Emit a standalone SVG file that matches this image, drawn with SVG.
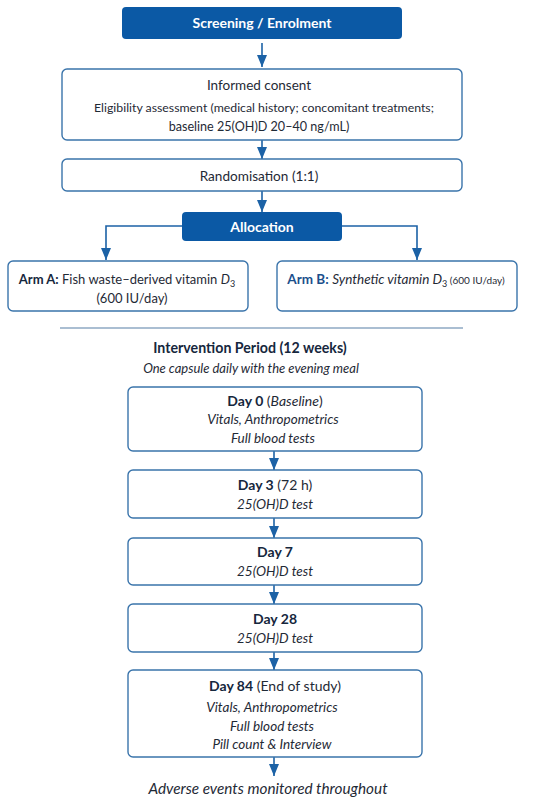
<svg xmlns="http://www.w3.org/2000/svg" width="550" height="802" viewBox="0 0 550 802">
<defs>
<style>
text{font-family:"Lato","Noto Sans","Liberation Sans",sans-serif;fill:#1f2a36;text-anchor:middle}
.bx{fill:#ffffff;stroke:#3a74ab;stroke-width:1.4}
.hd{fill:#0b59a5;stroke:none}
.ht{fill:#ffffff;font-weight:700;font-size:14px}
.b{font-weight:700;fill:#16273d}
.i{font-style:italic}
.ln{fill:none;stroke:#1c62a6;stroke-width:1.6}
</style>
<marker id="ah" viewBox="0 0 12 10" refX="12" refY="5" markerWidth="12" markerHeight="10" markerUnits="userSpaceOnUse" orient="auto">
<path d="M0,0 L12,5 L0,10 Z" fill="#1c62a6"/>
</marker>
</defs>
<rect width="550" height="802" fill="#ffffff"/>
<g id="connectors">
<line class="ln" x1="262" y1="43" x2="262" y2="67" marker-end="url(#ah)"/>
<line class="ln" x1="262" y1="140" x2="262" y2="159" marker-end="url(#ah)"/>
<line class="ln" x1="262" y1="191" x2="262" y2="212" marker-end="url(#ah)"/>
<polyline class="ln" points="182,226 106,226 106,260" marker-end="url(#ah)"/>
<polyline class="ln" points="342,226 417,226 417,260" marker-end="url(#ah)"/>
<line class="ln" x1="274" y1="451" x2="274" y2="470" marker-end="url(#ah)"/>
<line class="ln" x1="274" y1="518" x2="274" y2="538" marker-end="url(#ah)"/>
<line class="ln" x1="274" y1="585" x2="274" y2="604" marker-end="url(#ah)"/>
<line class="ln" x1="274" y1="652" x2="274" y2="670" marker-end="url(#ah)"/>
<line class="ln" x1="274" y1="757" x2="274" y2="776" marker-end="url(#ah)"/>
</g>
<g id="screening">
<rect class="hd" x="122" y="7" width="280" height="32" rx="4"/>
<text class="ht" x="262" y="28">Screening / Enrolment</text>
</g>
<g id="consent">
<rect class="bx" x="62" y="69" width="400" height="71" rx="5"/>
<text x="259" y="90" font-size="13.5">Informed consent</text>
<text x="264" y="112" font-size="12.3">Eligibility assessment (medical history; concomitant treatments;</text>
<text x="259" y="131" font-size="12.6">baseline 25(OH)D 20–40 ng/mL)</text>
</g>
<g id="randomisation">
<rect class="bx" x="62" y="159" width="400" height="32" rx="5"/>
<text x="259" y="181" font-size="13.6">Randomisation (1:1)</text>
</g>
<g id="allocation">
<rect class="hd" x="182" y="212" width="160" height="29" rx="4"/>
<text class="ht" x="262" y="232">Allocation</text>
</g>
<g id="armA">
<rect class="bx" x="8" y="261" width="240" height="50" rx="5"/>
<text x="127" y="284" font-size="13"><tspan class="b">Arm A:</tspan> Fish waste–derived vitamin <tspan class="i">D</tspan><tspan font-size="9" dy="3">3</tspan></text>
<text x="132" y="303" font-size="13">(600 IU/day)</text>
</g>
<g id="armB">
<rect class="bx" x="277" y="261" width="240" height="50" rx="5"/>
<text x="396" y="284" font-size="13.5"><tspan class="b" style="fill:#1b4f8c">Arm B:</tspan> <tspan class="i">Synthetic vitamin D</tspan><tspan font-size="9" dy="3">3</tspan><tspan font-size="10" dy="-3"> (600 IU/day)</tspan></text>
</g>
<g id="intervention">
<line x1="60" y1="328" x2="463" y2="328" stroke="#8ea8c3" stroke-width="1.5"/>
<text class="b" x="250" y="353" font-size="14.2">Intervention Period (12 weeks)</text>
<text class="i" x="251" y="373" font-size="13">One capsule daily with the evening meal</text>
</g>
<g id="day0">
<rect class="bx" x="128" y="387" width="294" height="64" rx="5"/>
<text x="275" y="406" font-size="14"><tspan class="b">Day 0</tspan> (<tspan class="i">Baseline</tspan>)</text>
<text class="i" x="273" y="424" font-size="13.5">Vitals, Anthropometrics</text>
<text class="i" x="273" y="443" font-size="13.5">Full blood tests</text>
</g>
<g id="day3">
<rect class="bx" x="128" y="470" width="294" height="48" rx="5"/>
<text x="275" y="490" font-size="14"><tspan class="b">Day 3</tspan> (72 h)</text>
<text class="i" x="275" y="509" font-size="13.5">25(OH)D test</text>
</g>
<g id="day7">
<rect class="bx" x="128" y="538" width="294" height="47" rx="5"/>
<text class="b" x="275" y="557" font-size="14">Day 7</text>
<text class="i" x="275" y="576" font-size="13.5">25(OH)D test</text>
</g>
<g id="day28">
<rect class="bx" x="128" y="604" width="294" height="48" rx="5"/>
<text class="b" x="275" y="624" font-size="14">Day 28</text>
<text class="i" x="275" y="643" font-size="13.5">25(OH)D test</text>
</g>
<g id="day84">
<rect class="bx" x="128" y="670" width="294" height="87" rx="5"/>
<text x="275" y="691" font-size="14"><tspan class="b">Day 84</tspan> (End of study)</text>
<text class="i" x="272" y="712" font-size="13.5">Vitals, Anthropometrics</text>
<text class="i" x="272" y="731" font-size="13.5">Full blood tests</text>
<text class="i" x="272" y="749" font-size="13.5">Pill count &amp; Interview</text>
</g>
<g id="adverse">
<text class="i" x="268" y="794" font-size="15.3">Adverse events monitored throughout</text>
</g>
</svg>
